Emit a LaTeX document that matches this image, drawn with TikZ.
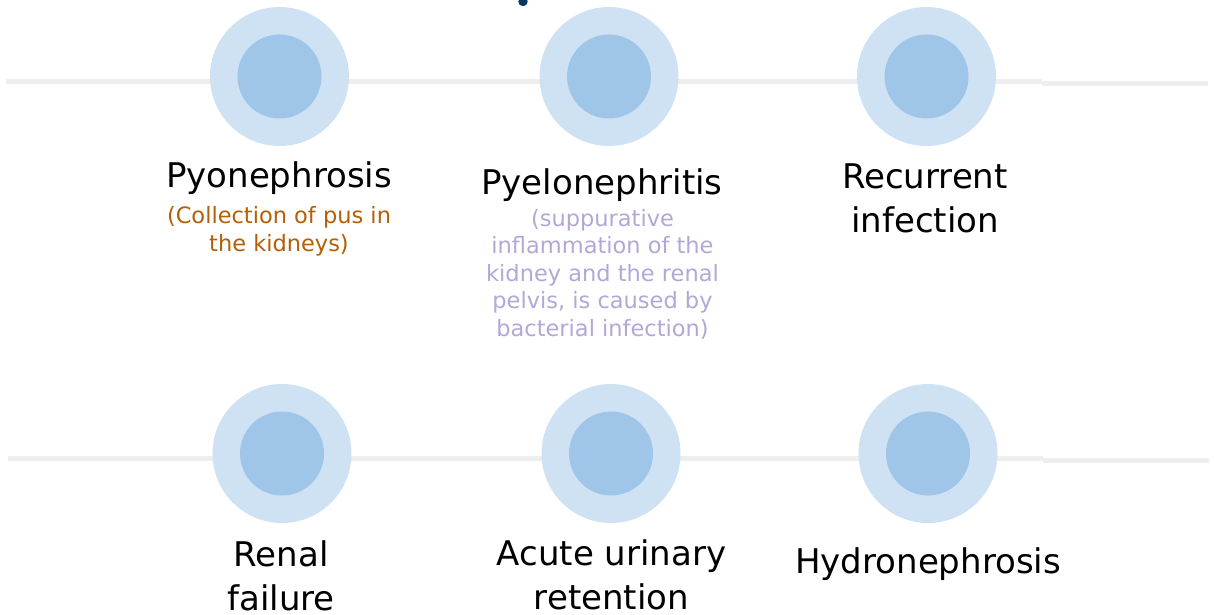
\documentclass[tikz,border=0pt]{standalone}
\usepackage{fontspec}
\setmainfont{DejaVu Sans}
\usetikzlibrary{positioning}
\definecolor{ringblue}{HTML}{CFE2F3}
\definecolor{coreblue}{HTML}{9FC5E8}
\definecolor{railgray}{HTML}{EEEEEE}
\definecolor{pusbrown}{HTML}{B45F06}
\definecolor{notelilac}{HTML}{B4A7D6}
\definecolor{titlenavy}{HTML}{073763}

\begin{document}
\begin{tikzpicture}[x=1pt,y=-1pt,
  ring/.style={circle,fill=ringblue,minimum size=139pt,inner sep=0pt},
  core/.style={circle,fill=coreblue,minimum size=84pt,inner sep=0pt},
  rail/.style={draw=railgray,line width=4.8pt},
  ttl/.style={align=center,anchor=base,inner sep=0pt,font=\fontsize{34}{44}\selectfont},
  note/.style={align=center,anchor=base,inner sep=0pt,font=\fontsize{22.5}{27.5}\selectfont}]
\useasboundingbox (0,0) rectangle (1214,615);
% cut-off heading
\fill[titlenavy] (523,1.5) circle (4.7pt);
% rails
\coordinate (ra) at (6,81.3);   \coordinate (rb) at (1042,81.3);
\coordinate (rc) at (1042,83.3); \coordinate (rd) at (1208,83.3);
\coordinate (sa) at (8,458.3);  \coordinate (sb) at (1043,458.3);
\coordinate (sc) at (1043,460.3); \coordinate (sd) at (1209,460.3);
\draw[rail](ra)--(rb);\draw[rail](rc)--(rd);
\draw[rail](sa)--(sb);\draw[rail](sc)--(sd);
% top row (base anchor = last line)
\node[ring] (pyo) at (279.5,76.5) {};  \node[core] (pyoi) at (pyo) {};
\node[ring] (pye) at (609,76.5) {};    \node[core] (pyei) at (pye) {};
\node[ring] (rec) at (926.5,76.5) {};  \node[core] (reci) at (rec) {};
\node[ttl] (pyot) at (279,187) {Pyonephrosis};
\node[note,text=pusbrown] (pyon) at (279,251) {(Collection of pus in\\the kidneys)};
\node[ttl] (pyet) at (602,194) {Pyelonephritis};
\node[note,text=notelilac] (pyen) at (602.5,336) {(suppurative\\inflammation of the\\kidney and the renal\\pelvis, is caused by\\bacterial infection)};
\node[ttl] (rect) at (925,232) {Recurrent\\infection};
% bottom row
\node[ring] (ren) at (282,453.5) {};   \node[core] (reni) at (ren) {};
\node[ring] (acu) at (611,453.5) {};   \node[core] (acui) at (acu) {};
\node[ring] (hyd) at (928,453.5) {};   \node[core] (hydi) at (hyd) {};
\node[ttl] (rent) at (281,610) {Renal\\failure};
\node[ttl] (acut) at (611.5,609) {Acute urinary\\retention};
\node[ttl] (hydt) at (928,573) {Hydronephrosis};
\end{tikzpicture}
\end{document}
